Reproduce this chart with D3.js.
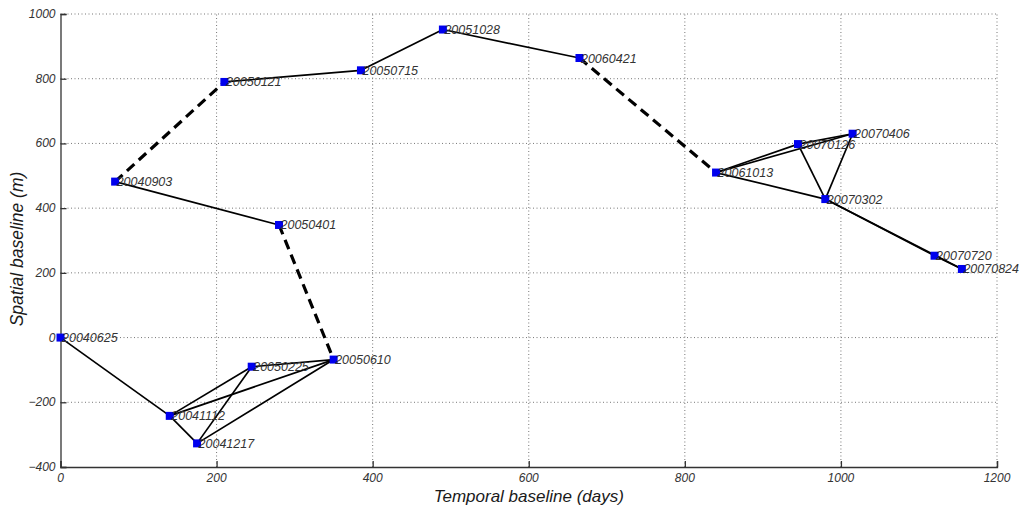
<!doctype html>
<html>
<meta charset="utf-8">
<head>
<script src="https://cdn.jsdelivr.net/npm/d3@7"></script>
<style>
  body { margin: 0; background: #fff; }
  text { font-family: "Liberation Sans", Arial, sans-serif; font-style: italic; }
</style>
</head>
<body>
<script>

// acquisitions: date label, temporal baseline (days), spatial baseline (m)
var dates = ["20040625","20040903","20041112","20041217","20050121","20050225","20050401","20050610",
             "20050715","20051028","20060421","20061013","20070126","20070302","20070406","20070720","20070824"];
var days = [0, 70, 140, 175, 210, 245, 280, 350, 385, 490, 665, 840, 945, 980, 1015, 1120, 1155];
var baselines = [0, 482, -242, -327, 790, -90, 348, -68, 826, 952, 864, 510, 598, 428, 630, 253, 212];

// interferometric pairs (indices into dates)
var solidPairs = [[0,2],[2,3],[2,5],[2,7],[3,5],[3,7],[5,7],[1,6],[4,8],[8,9],[9,10],
                  [11,12],[11,14],[11,13],[12,13],[12,14],[14,13],[13,15],[13,16],[15,16]];
var dashedPairs = [[1,4],[6,7],[10,11]];

var xTicks = [0, 200, 400, 600, 800, 1000, 1200];
var yTicks = [-400, -200, 0, 200, 400, 600, 800, 1000];

var width = 1021, height = 512;

var svg = d3.select("body").append("svg")
  .attr("width", width)
  .attr("height", height);

var x = d3.scaleLinear().domain([0, 1200]).range([60.5, 997]);
var y = d3.scaleLinear().domain([-400, 1000]).range([467, 14]);

// grid
var grid = svg.append("g").attr("class", "grid");
grid.selectAll("line.gx")
  .data(xTicks.slice(1))
  .enter().append("line")
  .attr("x1", function(d) { return x(d); })
  .attr("x2", function(d) { return x(d); })
  .attr("y1", y(-400))
  .attr("y2", y(1000))
  .style("stroke", "#777")
  .style("stroke-width", 1)
  .style("stroke-dasharray", "1,2.5");
grid.selectAll("line.gy")
  .data(yTicks.slice(1))
  .enter().append("line")
  .attr("y1", function(d) { return y(d); })
  .attr("y2", function(d) { return y(d); })
  .attr("x1", x(0))
  .attr("x2", x(1200))
  .style("stroke", "#777")
  .style("stroke-width", 1)
  .style("stroke-dasharray", "1,2.5");

// axes (inward ticks like matlab)
var xAxis = svg.append("g")
  .attr("transform", "translate(0," + y(-400) + ")")
  .call(d3.axisTop(x).tickValues(xTicks).tickSize(6).tickFormat(d3.format("d")));
xAxis.selectAll("text").remove();
var yAxis = svg.append("g")
  .attr("transform", "translate(" + x(0) + ",0)")
  .call(d3.axisRight(y).tickValues(yTicks).tickSize(6));
yAxis.selectAll("text").remove();
svg.selectAll(".domain, .tick line").style("stroke", "#333").style("stroke-width", 1.3);

svg.selectAll("text.xt")
  .data(xTicks)
  .enter().append("text")
  .attr("x", function(d) { return x(d); })
  .attr("y", y(-400) + 15)
  .attr("text-anchor", "middle")
  .style("font-size", "12px")
  .style("fill", "#333")
  .text(function(d) { return d; });

svg.selectAll("text.yt")
  .data(yTicks)
  .enter().append("text")
  .attr("x", x(0) - 5)
  .attr("y", function(d) { return y(d) + 4; })
  .attr("text-anchor", "end")
  .style("font-size", "12px")
  .style("fill", "#333")
  .text(function(d) { return d < 0 ? "\u2212" + (-d) : d; });

svg.append("text")
  .attr("x", (x(0) + x(1200)) / 2)
  .attr("y", 502)
  .attr("text-anchor", "middle")
  .style("font-size", "17px")
  .style("fill", "#1a1a1a")
  .text("Temporal baseline (days)");

svg.append("text")
  .attr("transform", "translate(23,249) rotate(-90)")
  .attr("text-anchor", "middle")
  .style("font-size", "17.5px")
  .style("fill", "#1a1a1a")
  .text("Spatial baseline (m)");

// pairs
svg.selectAll("line.solid")
  .data(solidPairs)
  .enter().append("line")
  .attr("x1", function(d) { return x(days[d[0]]); })
  .attr("y1", function(d) { return y(baselines[d[0]]); })
  .attr("x2", function(d) { return x(days[d[1]]); })
  .attr("y2", function(d) { return y(baselines[d[1]]); })
  .style("stroke", "#000")
  .style("stroke-width", 1.7);

svg.selectAll("line.dashed")
  .data(dashedPairs)
  .enter().append("line")
  .attr("x1", function(d) { return x(days[d[0]]); })
  .attr("y1", function(d) { return y(baselines[d[0]]); })
  .attr("x2", function(d) { return x(days[d[1]]); })
  .attr("y2", function(d) { return y(baselines[d[1]]); })
  .style("stroke", "#000")
  .style("stroke-width", 3.2)
  .style("stroke-dasharray", "10,6");

// acquisitions
svg.selectAll("rect.acq")
  .data(dates)
  .enter().append("rect")
  .attr("x", function(d, i) { return x(days[i]) - 4; })
  .attr("y", function(d, i) { return y(baselines[i]) - 4; })
  .attr("width", 8)
  .attr("height", 8)
  .style("fill", "#0000ee");

svg.selectAll("text.lbl")
  .data(dates)
  .enter().append("text")
  .attr("x", function(d, i) { return x(days[i]) + 1.5; })
  .attr("y", function(d, i) { return y(baselines[i]) + 4.5; })
  .style("font-size", "12.5px")
  .style("fill", "#333")
  .text(function(d) { return d; });

</script>
</body>
</html>
